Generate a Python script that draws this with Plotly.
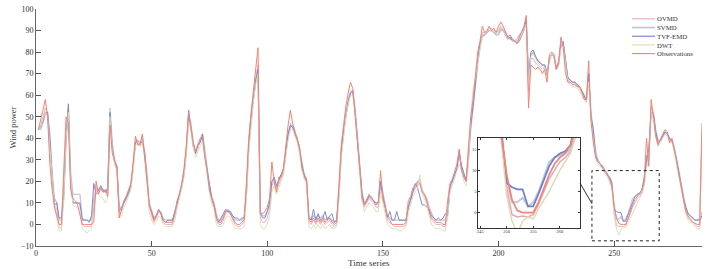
import plotly.graph_objects as go

# ---------------- data ----------------
time_index = list(range(1, 289))

observations = [
    44, 48, 53, 58, 50, 28, 16, 8, 4, 0,
    0, 25, 50, 47, 16, 12, 11, 9, 4, 0,
    0, 0, 0, 0, 1, 20, 14, 17, 15, 16,
    13, 46, 33, 29, 26, 3, 7, 11, 13, 16,
    19, 29, 41, 37, 37, 42, 29, 20, 9, 5,
    2, 4, 7, 5, 2, 1, 1, 1, 1, 5,
    11, 14, 19, 26, 37, 52, 44, 38, 34, 37,
    40, 41, 31, 25, 16, 12, 9, 3, 1, 1,
    3, 6, 6, 5, 3, 1, 0, 0, 1, 2,
    20, 40, 52, 62, 70, 82, 5, 5, 6, 8,
    12, 29, 20, 15, 22, 22, 26, 37, 46, 53,
    47, 43, 40, 36, 26, 23, 21, 2, 1, 3,
    1, 3, 1, 3, 1, 2, 3, 1, 0, 1,
    17, 37, 46, 55, 61, 66, 63, 52, 38, 25,
    12, 9, 12, 14, 12, 11, 9, 10, 25, 12,
    8, 3, 2, 0, 0, 0, 0, 0, 0, 1,
    11, 13, 17, 18, 20, 19, 15, 14, 11, 6,
    3, 2, 1, 1, 1, 0, 0, 11, 19, 21,
    25, 28, 35, 25, 22, 20, 36, 50, 58, 70,
    80, 85, 92, 89, 90, 92, 90, 91, 89, 92,
    94, 92, 89, 87, 88, 86, 85, 84, 87, 90,
    92, 97, 54, 74, 73, 72, 73, 72, 70, 72,
    66, 79, 80, 79, 72, 75, 87, 82, 70, 66,
    66, 65, 65, 64, 64, 62, 58, 58, 76, 48,
    38, 31, 29, 28, 27, 25, 24, 21, 18, 9,
    3, 0.5, 0, 0, 0, 2.5, 6, 9, 11.5, 13,
    14, 16, 20, 40, 27, 58, 50, 41, 37, 40,
    42, 44, 43, 38, 40, 35, 29, 23, 17, 11,
    6, 4, 2.5, 1, 0.5, 0, 0, 47,
]

ovmd = [
    44, 46, 50, 54, 52, 38, 20, 9, 7, -1,
    -2, 16, 44, 52, 20, 10, 10, 10, 9, 0,
    -1, -1, -1, -1, 8, 16, 15, 16, 15, 15,
    14, 50, 36, 29, 26, 5, 6, 10, 12, 15,
    18, 27, 39, 38, 37, 41, 32, 22, 8, 5,
    1, 3, 6, 5, 1, 0, 0, 0, 0, 4,
    9, 13, 18, 24, 35, 50, 45, 37, 33, 36,
    39, 41, 33, 25, 16, 11, 8, 2, 0, 0,
    2, 5, 6, 5, 2, 0, -1, -1, 0, 1,
    16, 37, 50, 60, 68, 74, 3, 1, 1, 3,
    7, 18, 20, 16, 19, 22, 24, 34, 42, 47,
    45, 42, 39, 34, 26, 22, 20, 1, 0, 2,
    0, 2, 0, 2, 0, 1, 2, 0, -1, 0,
    14, 35, 44, 52, 58, 62, 61, 52, 39, 26,
    13, 8, 10, 12, 11, 10, 8, 8, 18, 12,
    7, 2, 1, 0, -1, -1, -1, -1, -1, 0,
    8, 11, 15, 17, 18, 19, 15, 13, 10, 6,
    2, 1, 0, 0, 0, -1, -1, 5, 17, 20,
    23, 26, 32, 26, 22, 20, 31, 46, 55, 66,
    76, 83, 89, 89, 90, 91, 91, 90, 89, 90,
    92, 91, 89, 87, 87, 86, 85, 85, 86, 89,
    91, 95, 62, 77, 77, 75, 74, 73, 72, 73,
    69, 77, 79, 78, 72, 74, 83, 84, 75, 67,
    66, 65, 65, 64, 63, 61, 59, 58, 70, 50,
    41, 32, 29, 28, 27, 25, 23, 21, 18, 6,
    -0.5, -1, -0.8, -1, -0.5, 2, 5, 8, 10, 12,
    13, 14.5, 19, 32, 30, 55, 51, 42, 37, 39,
    41, 43, 42, 39, 39, 35, 30, 23, 17, 11,
    6, 3, 2, 1, 0, -1, -1, 6,
]

svmd = [
    44, 44, 47, 51, 52, 42, 24, 12, 10, 2,
    2, 12, 38, 54, 24, 14, 14, 14, 14, 3,
    2, 2, 2, 2, 12, 17, 16, 17, 16, 16,
    15, 54, 38, 30, 27, 8, 8, 10, 13, 14,
    17, 26, 38, 38, 37, 40, 34, 24, 10, 7,
    3, 4, 6, 6, 3, 2, 2, 2, 2, 5,
    9, 13, 17, 23, 33, 50, 47, 38, 33, 36,
    39, 42, 35, 27, 18, 13, 10, 5, 2, 2,
    4, 6, 7, 6, 4, 2, 2, 2, 2, 3,
    14, 35, 48, 58, 66, 71, 6, 4, 4, 6,
    9, 20, 21, 17, 20, 23, 25, 33, 41, 45,
    46, 43, 40, 35, 28, 23, 21, 4, 2, 4,
    3, 4, 3, 4, 2, 3, 3, 2, 1, 2,
    14, 33, 43, 50, 56, 61, 62, 54, 41, 28,
    15, 10, 11, 13, 13, 11, 10, 10, 20, 15,
    9, 4, 3, 2, 2, 2, 2, 2, 2, 2,
    8, 12, 15, 17, 19, 21, 16, 14, 12, 8,
    5, 3, 2, 2, 2, 2, 2, 6, 16, 20,
    23, 26, 32, 28, 23, 21, 30, 44, 53, 64,
    74, 82, 87, 88, 89, 90, 90, 89, 88, 88,
    90, 90, 89, 87, 86, 86, 85, 86, 88, 89,
    91, 94, 70, 79, 80, 78, 76, 75, 74, 74,
    71, 76, 79, 78, 73, 75, 83, 83, 75, 68,
    67, 66, 66, 65, 64, 62, 60, 58, 68, 52,
    44, 34, 30, 28, 27, 25, 23, 22, 20, 8,
    2.5, 2.5, 3.5, 1.5, 2.5, 5, 8.5, 12, 13, 13.5,
    14, 15, 20, 28, 33, 52, 52, 44, 39, 39,
    41, 42, 42, 40, 39, 36, 31, 25, 19, 13,
    8, 5, 4, 3, 2, 2, 3, 42,
]

tvf_emd = [
    44, 45, 48, 52, 52, 40, 22, 9, 10, 3,
    3, 14, 40, 56, 18, 10, 10, 10, 10, 2,
    2, 2, 1, 4, 19, 14, 16, 18, 16, 15,
    17, 52, 35, 29, 27, 6, 8, 10, 12, 15,
    18, 27, 38, 39, 38, 38, 33, 21, 8, 6,
    2, 4, 7, 5, 2, 1, 2, 2, 2, 6,
    10, 14, 18, 24, 35, 53, 45, 36, 33, 37,
    38, 42, 32, 25, 17, 12, 9, 3, 1, 3,
    5, 7, 6, 6, 4, 3, 3, 2, 3, 3,
    15, 38, 50, 60, 67, 72, 5, 3, 3, 6,
    10, 20, 22, 18, 21, 23, 26, 34, 42, 46,
    45, 42, 39, 34, 27, 22, 20, 3, 2, 7,
    2, 5, 2, 3, 6, 2, 4, 5, 1, 2,
    15, 33, 44, 50, 57, 61, 62, 52, 40, 27,
    14, 9, 11, 13, 12, 11, 10, 10, 20, 13,
    8, 3, 6, 2, 2, 6, 2, 2, 2, 2,
    8, 12, 16, 19, 17, 13, 9, 9, 8, 7,
    4, 3, 2, 3, 2, 3, 5, 4, 18, 20,
    23, 26, 34, 27, 24, 20, 32, 46, 55, 66,
    76, 84, 88, 88, 89, 90, 90, 89, 88, 89,
    91, 90, 88, 86, 87, 85, 85, 84, 85, 88,
    90, 95, 68, 80, 81, 78, 76, 75, 74, 74,
    70, 77, 79, 78, 72, 76, 84, 85, 76, 68,
    67, 66, 66, 65, 64, 62, 60, 57, 70, 50,
    44, 32, 29, 28, 26, 24, 23, 22, 19, 7,
    6, 5.5, 5.5, 1.5, 1.5, 4.5, 8, 11, 13, 14,
    14.5, 16, 22, 30, 35, 52, 51, 43, 38, 39,
    41, 43, 42, 40, 39, 35, 30, 24, 18, 12,
    8, 5, 4, 3, 2, 2, 2, 4,
]

dwt = [
    44, 45, 49, 52, 50, 36, 20, 8, 3, -3,
    -3, 12, 40, 52, 20, 9, 8, 8, 7, -2,
    -3, -4, -3, -2, 6, 15, 14, 13, 12, 10,
    12, 50, 34, 28, 25, 3, 4, 8, 10, 13,
    16, 25, 37, 37, 36, 38, 31, 20, 6, 2,
    0, 1, 4, 3, 0, -1, -1, -1, -1, 2,
    7, 11, 16, 22, 33, 48, 44, 36, 31, 34,
    37, 39, 32, 24, 15, 10, 7, 0, -1, -1,
    0, 3, 4, 3, 0, -2, -2, -2, -2, -1,
    12, 34, 47, 57, 65, 70, 0, -2, -2, 0,
    4, 15, 18, 14, 17, 20, 23, 31, 39, 44,
    44, 41, 38, 33, 25, 21, 19, -1, -2, 0,
    -2, 0, -2, 0, -2, -1, 0, -2, -2, -1,
    11, 31, 42, 50, 56, 60, 60, 51, 38, 25,
    11, 6, 8, 10, 9, 8, 6, 6, 15, 10,
    5, 0, -1, -2, -2, -2, -3, -3, -2, -1,
    5, 9, 13, 15, 17, 23, 14, 12, 9, 4,
    0, -1, -2, -2, -2, -3, -3, 3, 15, 18,
    21, 24, 28, 25, 20, 18, 28, 50, 63, 68,
    75, 82, 88, 88, 89, 90, 90, 89, 88, 89,
    91, 90, 88, 86, 86, 85, 85, 85, 86, 88,
    90, 93, 66, 78, 79, 77, 75, 74, 73, 73,
    70, 77, 79, 78, 72, 74, 82, 83, 74, 66,
    65, 64, 64, 63, 62, 60, 58, 57, 66, 48,
    40, 31, 28, 27, 26, 24, 22, 20, 17, 4,
    -2, -5, -2, -1, -1.5, 1, 3, 5, 7.5, 10,
    12, 14, 18, 26, 30, 52, 49, 40, 36, 38,
    40, 42, 41, 38, 38, 34, 28, 22, 16, 10,
    5, 2, 1, 0, -1, -2, -2, 44,
]

for s in (observations, ovmd, svmd, tvf_emd, dwt):
    assert len(s) == len(time_index), len(s)

series_names = ["OVMD", "SVMD", "TVF-EMD", "DWT", "Observations"]
series_values = [ovmd, svmd, tvf_emd, dwt, observations]

x_tick_values = [0, 50, 100, 150, 200, 250]
y_tick_values = [-10, 0, 10, 20, 30, 40, 50, 60, 70, 80, 90, 100]
inset_x_ticks = [245, 250, 255, 260]
inset_y_ticks = [0, 5, 10, 15]
zoom_box = dict(x0=240.4, x1=269.5, y0=-7.6, y1=25)

# ---------------- style ----------------
colors = {
    "OVMD": "#e8a8ba",
    "SVMD": "#c6c6de",
    "TVF-EMD": "#7080cc",
    "DWT": "#dedab4",
    "Observations": "#f28474",
}
main_widths = {"OVMD": 0.9, "SVMD": 1.3, "TVF-EMD": 0.9, "DWT": 0.9, "Observations": 1.0}
inset_widths = {"OVMD": 1.5, "SVMD": 1.9, "TVF-EMD": 1.7, "DWT": 1.5, "Observations": 1.7}
FONT = "Liberation Serif, Times New Roman, serif"
TEXT_COLOR = "#333333"

W, H = 717, 269
ML, MR, MT, MB = 36, 15, 5, 23
PW, PH = W - ML - MR, H - MT - MB


def px_to_paper(px, py):
    return (px - ML) / PW, (H - MB - py) / PH


fig = go.Figure()

for name, vals in zip(series_names, series_values):
    fig.add_trace(go.Scatter(
        x=time_index, y=vals, mode="lines", name=name,
        line=dict(color=colors[name], width=main_widths[name]),
        showlegend=False, xaxis="x", yaxis="y",
    ))

for name, vals in zip(series_names, series_values):
    fig.add_trace(go.Scatter(
        x=time_index, y=vals, mode="lines", name=name,
        line=dict(color=colors[name], width=inset_widths[name]),
        showlegend=False, xaxis="x2", yaxis="y2",
    ))

ix0, iy1 = px_to_paper(477.5, 136)
ix1, iy0 = px_to_paper(580, 228)

fig.update_layout(
    width=W, height=H,
    margin=dict(l=ML, r=MR, t=MT, b=MB),
    paper_bgcolor="white", plot_bgcolor="white",
    font=dict(family=FONT, size=8, color=TEXT_COLOR),
    xaxis=dict(
        range=[0, 288], tickvals=x_tick_values, ticks="inside", ticklen=5,
        tickcolor="#555", showline=True, linecolor="#666", linewidth=1,
        showgrid=False, zeroline=False, mirror=False,
        ticklabelstandoff=-1,
        tickfont=dict(size=8, color=TEXT_COLOR),
    ),
    yaxis=dict(
        range=[-10, 100], tickvals=y_tick_values, ticks="inside", ticklen=5,
        tickcolor="#555", showline=True, linecolor="#666", linewidth=1,
        showgrid=False, zeroline=False, mirror=False,
        ticklabelstandoff=0,
        title=dict(text="Wind power", font=dict(size=8.5, color=TEXT_COLOR), standoff=2),
        tickfont=dict(size=8, color=TEXT_COLOR),
    ),
    xaxis2=dict(
        domain=[ix0, ix1], anchor="y2", range=[244.5, 263.8],
        tickvals=inset_x_ticks, ticks="inside", ticklen=2, tickcolor="#333",
        showline=True, linecolor="#333", linewidth=1, mirror="ticks",
        showgrid=False, zeroline=False, tickfont=dict(size=4.5, color=TEXT_COLOR),
        ticklabelstandoff=-2,
    ),
    yaxis2=dict(
        domain=[iy0, iy1], anchor="x2", range=[-3.7, 17.7],
        tickvals=inset_y_ticks, ticks="inside", ticklen=2, tickcolor="#333",
        showline=True, linecolor="#333", linewidth=1, mirror="ticks",
        showgrid=False, zeroline=False, tickfont=dict(size=4.5, color=TEXT_COLOR),
        ticklabelstandoff=-1,
    ),
)

# x-axis title placed explicitly just under the tick labels
_, title_y = px_to_paper(0, 263)
fig.add_annotation(xref="paper", yref="paper", x=0.5, y=title_y,
                   text="Time series", showarrow=False,
                   xanchor="center", yanchor="middle", borderpad=0,
                   font=dict(size=9, family=FONT, color=TEXT_COLOR))

# dashed zoom box on main axes
fig.add_shape(type="rect", xref="x", yref="y", **zoom_box,
              line=dict(color="#222", width=1, dash="dot"))
# connector from inset to box
cx0, cy0 = px_to_paper(580, 182)
cx1, cy1 = px_to_paper(592, 203)
fig.add_shape(type="line", xref="paper", yref="paper",
              x0=cx0, y0=cy0, x1=cx1, y1=cy1, line=dict(color="#333", width=1))

# compact legend (top-right): sample lines + one multi-line text block
LEG_FONT = 6.8
LEG_STEP = LEG_FONT * 1.3
LEG_TOP = 15
for i, name in enumerate(series_names):
    py = LEG_TOP + LEG_STEP * i
    lx0, ly = px_to_paper(632, py)
    lx1, _ = px_to_paper(655, py)
    fig.add_shape(type="line", xref="paper", yref="paper",
                  x0=lx0, x1=lx1, y0=ly, y1=ly,
                  line=dict(color=colors[name], width=1.1 if name != "SVMD" else 1.8))
tx, ty = px_to_paper(656, LEG_TOP + LEG_STEP * 2)
fig.add_annotation(xref="paper", yref="paper", x=tx, y=ty,
                   text="<br>".join(series_names), align="left",
                   showarrow=False, xanchor="left", yanchor="middle", borderpad=0,
                   font=dict(size=LEG_FONT, family=FONT, color=TEXT_COLOR))

# the page's default body margin would shift the fixed-size figure; remove it
fig.write_html("out.html", config={"displayModeBar": False},
               post_script="document.body.style.margin='0';")
